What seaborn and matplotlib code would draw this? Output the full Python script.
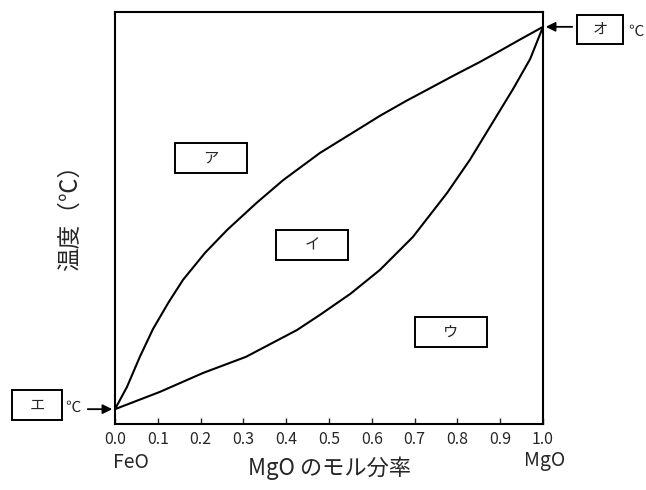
import matplotlib
matplotlib.use("Agg")
import matplotlib.pyplot as plt
import seaborn as sns
import pandas as pd
from matplotlib.patches import Rectangle

# liquidus (upper) and solidus (lower); temperature on a 0-100 scale
liq_x = [0.0, 0.028, 0.058, 0.089, 0.125, 0.159, 0.210, 0.262, 0.330, 0.393, 0.479, 0.560, 0.619, 0.680, 0.736, 0.790, 0.853, 0.900, 0.946, 1.0]
liq_t = [3.6, 9.0, 16.3, 23.1, 29.5, 35.0, 41.5, 47.1, 53.6, 59.2, 65.8, 71.0, 74.8, 78.4, 81.5, 84.5, 87.9, 90.6, 93.3, 96.4]
sol_x = [0.0, 0.105, 0.206, 0.306, 0.425, 0.479, 0.550, 0.619, 0.696, 0.776, 0.829, 0.876, 0.930, 0.970, 1.0]
sol_t = [3.6, 7.8, 12.4, 16.3, 22.8, 26.5, 31.6, 37.4, 45.4, 56.1, 64.1, 72.1, 81.3, 88.6, 96.4]

region_labels = ["ア", "イ", "ウ"]
region_x = [0.224, 0.460, 0.785]
region_t = [64.6, 43.4, 22.3]

xticks = [0.0, 0.1, 0.2, 0.3, 0.4, 0.5, 0.6, 0.7, 0.8, 0.9, 1.0]

sns.set_style("white")
plt.rcParams['font.family'] = ['Noto Sans CJK JP', 'DejaVu Sans']

W, H = 646, 490
fig = plt.figure(figsize=(W / 100, H / 100), dpi=100)
ax = fig.add_axes([115 / W, 1 - 424 / H, 428 / W, 412 / H])

liq = pd.DataFrame({"x": liq_x, "t": liq_t})
sol = pd.DataFrame({"x": sol_x, "t": sol_t})
sns.lineplot(data=liq, x="x", y="t", color="black", lw=1.5, ax=ax, sort=False)
sns.lineplot(data=sol, x="x", y="t", color="black", lw=1.5, ax=ax, sort=False)

ax.set_xlim(0, 1)
ax.set_ylim(0, 100)
ax.set_xticks(xticks)
ax.set_xticklabels([f"{v:.1f}" for v in xticks], fontsize=11.5)
ax.set_yticks([])
ax.tick_params(axis="x", direction="in", length=4, width=1, pad=5, bottom=True)
ax.set_xlabel("")
ax.set_ylabel("")
for sp in ax.spines.values():
    sp.set_color("black")
    sp.set_linewidth(1.5)

# boxed region labels inside the plot (box ~72x30 px)
bw, bh = 72 / 428, 30 / 412 * 100
for lab, x, t in zip(region_labels, region_x, region_t):
    ax.add_patch(Rectangle((x - bw / 2, t - bh / 2), bw, bh, fill=False, ec="black", lw=1.4))
    ax.text(x, t, lab, ha="center", va="center", fontsize=11)


def fpx(x, y):
    return x / W, 1 - y / H


# outside boxes for melting points
for lab, (x0, y0, x1, y1), cx in [("エ", (12, 390, 62, 420), 73), ("オ", (577, 15, 623, 44), 636)]:
    fx, fy = fpx(x0, y1)
    fig.add_artist(Rectangle((fx, fy), (x1 - x0) / W, (y1 - y0) / H, fill=False,
                             ec="black", lw=1.4, transform=fig.transFigure))
    mx, my = fpx((x0 + x1) / 2, (y0 + y1) / 2)
    fig.text(mx, my, lab, ha="center", va="center", fontsize=11)
    tx, ty = fpx(cx, (y0 + y1) / 2 + 2)
    fig.text(tx, ty, "℃", ha="center", va="center", fontsize=11)

ax.annotate("", xy=(0, liq_t[0]), xytext=(-30, 0), textcoords="offset pixels",
            arrowprops=dict(arrowstyle="-|>", color="black", lw=1.3, mutation_scale=14),
            annotation_clip=False)
ax.annotate("", xy=(1, liq_t[-1]), xytext=(32, 0), textcoords="offset pixels",
            arrowprops=dict(arrowstyle="-|>", color="black", lw=1.3, mutation_scale=14),
            annotation_clip=False)

x, y = fpx(70, 212)
fig.text(x, y, "温度（℃）", rotation=90, ha="center", va="center", fontsize=17)
x, y = fpx(330, 468)
fig.text(x, y, "MgO のモル分率", ha="center", va="center", fontsize=16)
x, y = fpx(131, 462)
fig.text(x, y, "FeO", ha="center", va="center", fontsize=14)
x, y = fpx(545, 460)
fig.text(x, y, "MgO", ha="center", va="center", fontsize=14)

fig.savefig("out.png", dpi=100)
